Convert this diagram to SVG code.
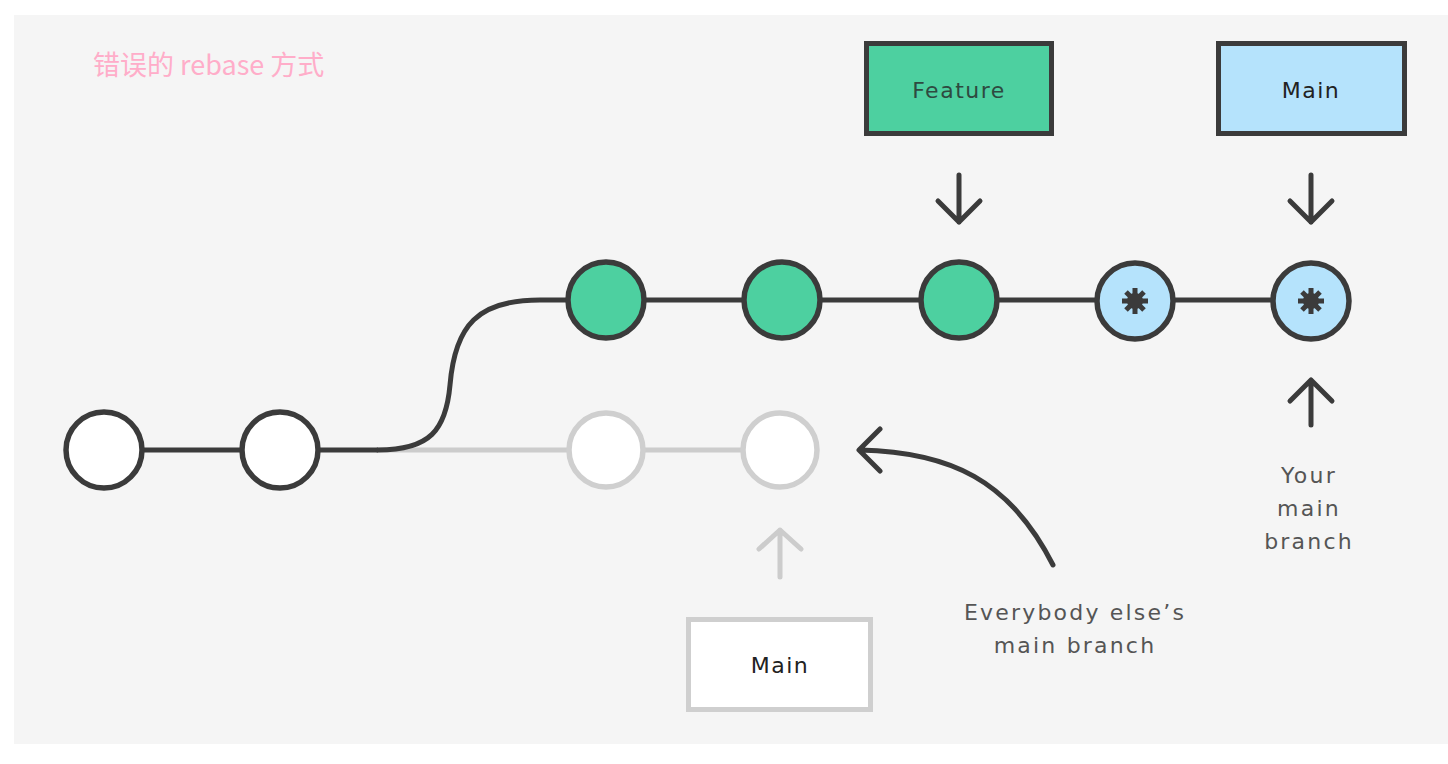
<svg xmlns="http://www.w3.org/2000/svg" width="1448" height="764" viewBox="0 0 1448 764">
<defs>
<style>
.bg{fill:#f5f5f5}
.dark{stroke:#3b3b3b;stroke-width:5;fill:none;stroke-linecap:round;stroke-linejoin:round}
.light{stroke:#cccccc;stroke-width:5;fill:none;stroke-linecap:round;stroke-linejoin:round}
.c-white{fill:#ffffff;stroke:#3b3b3b;stroke-width:5.5}
.c-ghost{fill:#ffffff;stroke:#cfcfcf;stroke-width:5.5}
.c-green{fill:#4dd0a0;stroke:#3b3b3b;stroke-width:5.5}
.c-blue{fill:#b5e3fc;stroke:#3b3b3b;stroke-width:5.5}
.lbl{font-family:"DejaVu Sans","Liberation Sans",sans-serif;font-size:22px;letter-spacing:1.5px;text-anchor:middle}
.note{font-family:"DejaVu Sans","Liberation Sans",sans-serif;font-size:22px;letter-spacing:2.2px;text-anchor:middle;fill:#555555}
.title{font-family:"Noto Sans CJK SC","Noto Sans",sans-serif;font-size:27px;fill:#ffadc9}
.star{stroke:#3b3b3b;stroke-width:5;stroke-linecap:butt}
</style>
</defs>
<rect class="bg" x="14" y="15" width="1434" height="729"/>
<text class="title" x="93" y="75">错误的 rebase 方式</text>

<g id="connectors">
<line class="light" x1="378" y1="450" x2="780" y2="450"/>
<line class="dark" x1="104" y1="450" x2="378" y2="450" style="stroke-linecap:butt"/>
<path class="dark" d="M378 450 C430 450 446 430 450 385 C455 325 478 300 540 300 L1311 300"/>
<path class="dark" d="M959 175 V222 M938 201 L959 222 L980 201"/>
<path class="dark" d="M1311 175 V222 M1290 201 L1311 222 L1332 201"/>
<path class="dark" d="M1311 425 V380 M1290 401 L1311 380 L1332 401"/>
<path class="light" d="M780 577 V530 M759 549 L780 530 L801 549"/>
<path class="dark" d="M1053 565 C1010 480 950 452 860 450 M880 429 L859 450 L880 471"/>
</g>

<g id="c1"><circle class="c-white" cx="104" cy="450" r="38"/></g>
<g id="c2"><circle class="c-white" cx="280" cy="450" r="38"/></g>
<g id="c3"><circle class="c-ghost" cx="606" cy="450" r="37"/></g>
<g id="c4"><circle class="c-ghost" cx="780" cy="450" r="37"/></g>
<g id="f1"><circle class="c-green" cx="606" cy="300" r="38"/></g>
<g id="f2"><circle class="c-green" cx="782" cy="300" r="38"/></g>
<g id="f3"><circle class="c-green" cx="959" cy="300" r="38"/></g>
<g id="m1"><circle class="c-blue" cx="1135" cy="301" r="38"/>
<circle cx="1135" cy="301" r="8" fill="#3b3b3b"/>
<path class="star" d="M1135 288 V314 M1122 301 H1148 M1126 292 L1144 310 M1144 292 L1126 310"/></g>
<g id="m2"><circle class="c-blue" cx="1311" cy="301" r="38"/>
<circle cx="1311" cy="301" r="8" fill="#3b3b3b"/>
<path class="star" d="M1311 288 V314 M1298 301 H1324 M1302 292 L1320 310 M1320 292 L1302 310"/></g>

<g id="feature-box"><rect x="866.5" y="43.5" width="185" height="90" fill="#4dd0a0" stroke="#3b3b3b" stroke-width="5"/>
<text class="lbl" x="959" y="98" fill="#2e4a40">Feature</text></g>
<g id="main-box"><rect x="1218.5" y="43.5" width="186" height="90" fill="#b5e3fc" stroke="#3b3b3b" stroke-width="5"/>
<text class="lbl" x="1311" y="98" fill="#222222">Main</text></g>
<g id="old-main-box"><rect x="688.5" y="619.5" width="182" height="90" fill="#ffffff" stroke="#cfcfcf" stroke-width="5"/>
<text class="lbl" x="780" y="673" fill="#222222">Main</text></g>

<g id="labels">
<text class="note" x="1075" y="620">Everybody else’s</text>
<text class="note" x="1075" y="653">main branch</text>
<text class="note" x="1309" y="483">Your</text>
<text class="note" x="1309" y="516">main</text>
<text class="note" x="1309" y="549">branch</text>
</g>
</svg>
